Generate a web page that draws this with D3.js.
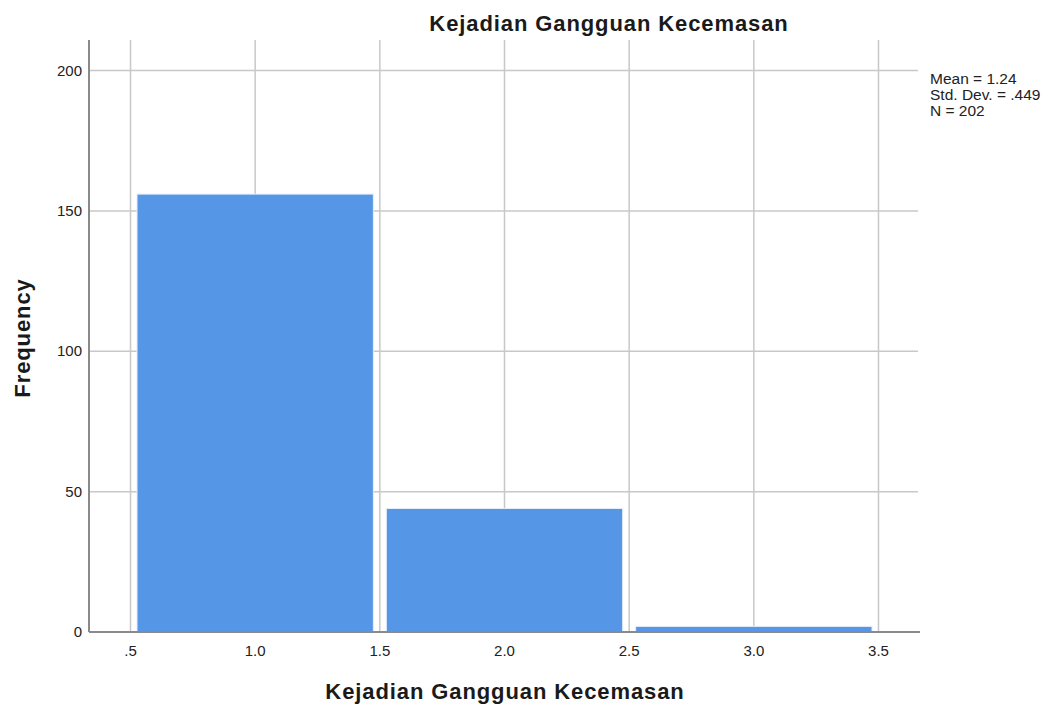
<!DOCTYPE html>
<html><head><meta charset="utf-8">
<script src="https://cdn.jsdelivr.net/npm/d3@7"></script>
<style>body{margin:0;background:#fff;font-family:"Liberation Sans",Arial,sans-serif;}</style>
</head><body>
<svg id="c" width="1050" height="710"></svg>
<script>
const binStarts = [0.5, 1.5, 2.5];
const binEnds = [1.5, 2.5, 3.5];
const counts = [156, 44, 2];
const xTicks = [0.5, 1.0, 1.5, 2.0, 2.5, 3.0, 3.5];
const xTickLabels = [".5", "1.0", "1.5", "2.0", "2.5", "3.0", "3.5"];
const yTicks = [0, 50, 100, 150, 200];
const statsLines = ["Mean = 1.24", "Std. Dev. = .449", "N = 202"];
const titleText = "Kejadian Gangguan Kecemasan";
const xLabel = "Kejadian Gangguan Kecemasan";
const yLabel = "Frequency";

const svg = d3.select("#c");
const L = 89, R = 920, T = 40, B = 632;
const x = d3.scaleLinear().domain([0.3335, 3.6665]).range([L, R]);
const y = d3.scaleLinear().domain([0, 210.9]).range([B, T]);
const grid = "#c8c8c8";

// vertical gridlines
svg.append("g").selectAll("line").data(xTicks).join("line")
  .attr("x1", d => x(d)).attr("x2", d => x(d)).attr("y1", T).attr("y2", B)
  .attr("stroke", grid).attr("stroke-width", 1.5);
// horizontal gridlines
svg.append("g").selectAll("line").data(yTicks.filter(d => d > 0)).join("line")
  .attr("x1", L).attr("x2", R - 2).attr("y1", d => y(d)).attr("y2", d => y(d))
  .attr("stroke", grid).attr("stroke-width", 1.5);

// bars
const inset = 6.5;
svg.append("g").selectAll("rect").data(counts).join("rect")
  .attr("x", (d, i) => x(binStarts[i]) + inset)
  .attr("width", (d, i) => x(binEnds[i]) - x(binStarts[i]) - 2 * inset)
  .attr("y", d => y(d))
  .attr("height", d => B - y(d))
  .attr("fill", "#5596e6")
  .attr("stroke", "#e4eefb").attr("stroke-width", 1);

// axes lines
svg.append("line").attr("x1", L).attr("x2", L).attr("y1", T).attr("y2", B)
  .attr("stroke", "#8a8a8a").attr("stroke-width", 2);
svg.append("line").attr("x1", L).attr("x2", R).attr("y1", B).attr("y2", B)
  .attr("stroke", "#8a8a8a").attr("stroke-width", 2);

// y tick labels
svg.append("g").selectAll("text").data(yTicks).join("text")
  .attr("x", 82).attr("y", d => y(d) + 5)
  .attr("text-anchor", "end").attr("font-size", 15).attr("fill", "#222")
  .text(d => d);
// x tick labels
svg.append("g").selectAll("text").data(xTicks).join("text")
  .attr("x", d => x(d)).attr("y", 656)
  .attr("text-anchor", "middle").attr("font-size", 15).attr("fill", "#222")
  .text((d, i) => xTickLabels[i]);

// title
svg.append("text").attr("x", 609).attr("y", 31).attr("text-anchor", "middle")
  .attr("font-size", 22).attr("font-weight", "bold").attr("letter-spacing", 0.9)
  .attr("fill", "#1a1a1a").text(titleText);
// x label
svg.append("text").attr("x", 505).attr("y", 699).attr("text-anchor", "middle")
  .attr("font-size", 22).attr("font-weight", "bold").attr("letter-spacing", 0.9)
  .attr("fill", "#1a1a1a").text(xLabel);
// y label
svg.append("text").attr("transform", "translate(30,338) rotate(-90)").attr("text-anchor", "middle")
  .attr("font-size", 22).attr("font-weight", "bold").attr("letter-spacing", 0.9)
  .attr("fill", "#1a1a1a").text(yLabel);

// stats
svg.append("g").selectAll("text").data(statsLines).join("text")
  .attr("x", 930).attr("y", (d, i) => 84 + i * 16)
  .attr("font-size", 15.5).attr("fill", "#222").text(d => d);
</script>
</body></html>
